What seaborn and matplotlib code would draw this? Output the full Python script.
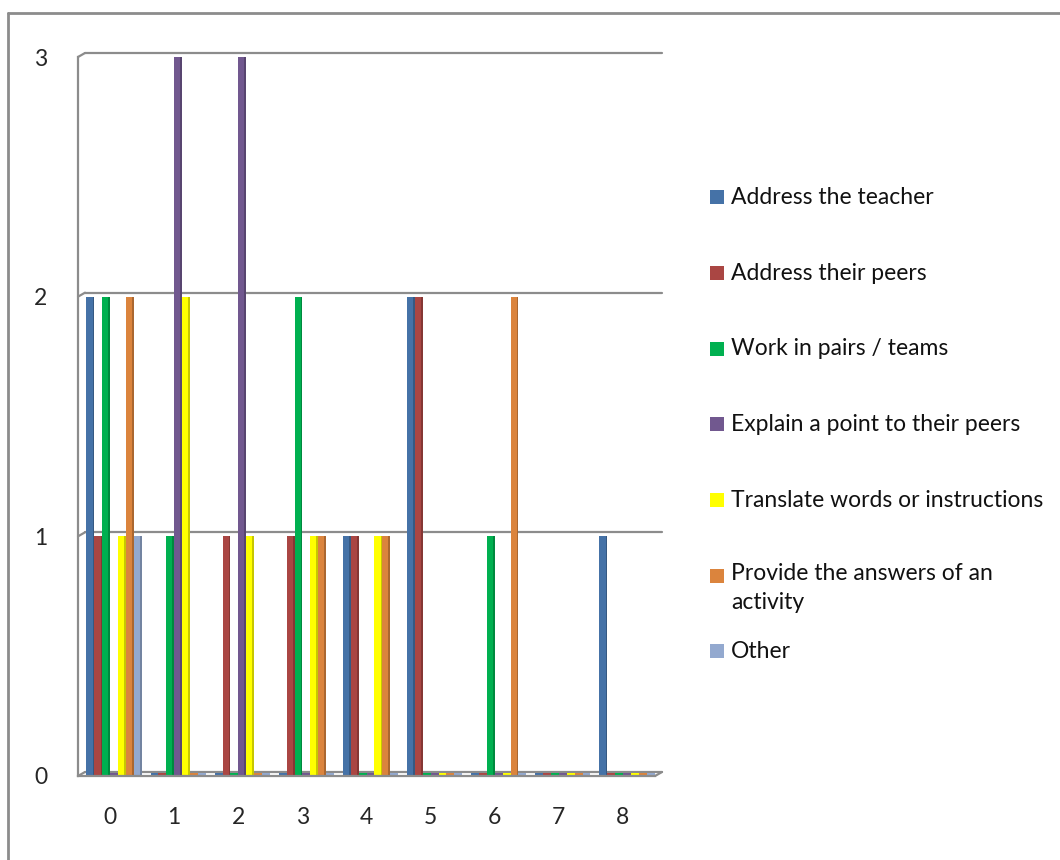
import matplotlib
matplotlib.use("Agg")
import matplotlib.pyplot as plt
from matplotlib.patches import Rectangle
from matplotlib.lines import Line2D
from matplotlib.colors import to_rgb
import matplotlib.transforms as mtransforms
import seaborn as sns
import pandas as pd

# Categories on the x axis (number of occurrences)
categories = ["0", "1", "2", "3", "4", "5", "6", "7", "8"]

# Series names, in legend order
series = [
    "Address the teacher",
    "Address their peers",
    "Work in pairs / teams",
    "Explain a point to their peers",
    "Translate words or instructions",
    "Provide the answers of an\nactivity",
    "Other",
]

# Values per series, one per category
address_teacher = [2, 0, 0, 0, 1, 2, 0, 0, 1]
address_peers   = [1, 0, 1, 1, 1, 2, 0, 0, 0]
work_pairs      = [2, 1, 0, 2, 0, 0, 1, 0, 0]
explain_point   = [0, 3, 3, 0, 0, 0, 0, 0, 0]
translate       = [1, 2, 1, 1, 1, 0, 0, 0, 0]
provide_answers = [2, 0, 0, 1, 1, 0, 2, 0, 0]
other           = [1, 0, 0, 0, 0, 0, 0, 0, 0]

y_ticks = [0, 1, 2, 3]

colors = ["#4572A7", "#AA4643", "#00B050", "#71588F", "#FFFF00", "#DB843D", "#93A9CF"]

values = [address_teacher, address_peers, work_pairs, explain_point,
          translate, provide_answers, other]
rows = []
for name, vals in zip(series, values):
    for cat, v in zip(categories, vals):
        rows.append({"category": cat, "series": name, "value": v})
df = pd.DataFrame(rows)

sns.set_style("white")
plt.rcParams["font.family"] = ["Lato", "DejaVu Sans"]

W, H = 1060, 860
fig = plt.figure(figsize=(W / 100, H / 100), dpi=100)
ax = fig.add_axes([78 / W, 1 - 776 / H, (655 - 78) / W, (776 - 57) / H])

sns.barplot(data=df, x="category", y="value", hue="series",
            order=categories, hue_order=series, palette=colors,
            width=0.86, saturation=1, legend=False, ax=ax, zorder=3)

ax.set_ylim(0, 3)
ax.set_xlim(-0.5, len(categories) - 0.5)

grid_col = "#8C8C8C"

# depth offsets for the back wall and the columns (in pixels)
wall = mtransforms.offset_copy(ax.transData, fig=fig, x=7, y=4, units="dots")
cols = mtransforms.offset_copy(ax.transData, fig=fig, x=4, y=0, units="dots")

# data height of a few pixels, used for the flat tops of empty columns
px_per_unit = ax.transData.transform((0, 1))[1] - ax.transData.transform((0, 0))[1]
slab = 3.0 / px_per_unit

for p in list(ax.patches):
    h = p.get_height()
    p.set_edgecolor("none")
    p.set_transform(cols)
    x0, w = p.get_x(), p.get_width()
    r, g, b = to_rgb(p.get_facecolor())
    if h <= 0:
        # empty column: only its thin lid on the floor shows
        ax.add_patch(Rectangle((x0, 0), w, slab, facecolor=(r, g, b),
                               edgecolor="none", zorder=2, transform=cols,
                               clip_on=False))
        continue
    # darker right-hand face on each column for a shaded look
    ax.add_patch(Rectangle((x0 + w * 0.78, 0), w * 0.22, h,
                           facecolor=(r * 0.78, g * 0.78, b * 0.78),
                           edgecolor="none", zorder=4, transform=cols))

ax.set_yticks(y_ticks)
ax.set_yticklabels([str(t) for t in y_ticks])
ax.set_xlabel("")
ax.set_ylabel("")

# back-wall gridlines with a short slanted join to the value axis
x_lo, x_hi = -0.5, len(categories) - 0.5
for t in y_ticks:
    ax.plot([x_lo, x_hi], [t, t], color=grid_col, linewidth=1.6,
            transform=wall, zorder=1, clip_on=False)
    base = ax.transData.transform((x_lo, t))
    fig.add_artist(Line2D([base[0] / W, (base[0] + 7) / W],
                          [base[1] / H, (base[1] + 4) / H],
                          color=grid_col, linewidth=1.6,
                          transform=fig.transFigure))
# right edge of the floor
bx = ax.transData.transform((x_hi, 0))
fig.add_artist(Line2D([bx[0] / W, (bx[0] + 7) / W], [bx[1] / H, (bx[1] + 4) / H],
                      color=grid_col, linewidth=1.6, transform=fig.transFigure))

# category ticks sit between groups
ax.set_xticks([i + 0.5 for i in range(-1, len(categories))], minor=True)
ax.tick_params(axis="x", which="minor", length=8, width=1.5, color=grid_col, direction="out")
ax.tick_params(axis="x", which="major", length=0, labelsize=16.5, pad=22)
ax.tick_params(axis="y", length=8, width=1.5, color=grid_col, direction="out",
               labelsize=16.5, pad=14)

for s in ["top", "right"]:
    ax.spines[s].set_visible(False)
for s in ["left", "bottom"]:
    ax.spines[s].set_color(grid_col)
    ax.spines[s].set_linewidth(1.6)
    ax.spines[s].set_zorder(5)

# legend drawn as a column of swatches and labels
legend_y = [197, 273, 349, 424, 500, 576, 651]
for name, c, yp in zip(series, colors, legend_y):
    fig.add_artist(Rectangle((710 / W, 1 - (yp + 7) / H), 14 / W, 14 / H,
                             facecolor=c, edgecolor="none",
                             transform=fig.transFigure))
    if "\n" in name:
        fig.text(731 / W, 1 - (yp - 13) / H, name, fontsize=16.5, va="top",
                 ha="left", linespacing=1.45, color="#111111")
    else:
        fig.text(731 / W, 1 - yp / H, name, fontsize=16.5, va="center",
                 ha="left", color="#111111")

# chart frame
fig.add_artist(Line2D([8 / W, 8 / W], [0, 1 - 13 / H], color=grid_col,
                      linewidth=2, transform=fig.transFigure))
fig.add_artist(Line2D([8 / W, 1], [1 - 13 / H, 1 - 13 / H], color=grid_col,
                      linewidth=2, transform=fig.transFigure))

fig.savefig("out.png", dpi=100)
